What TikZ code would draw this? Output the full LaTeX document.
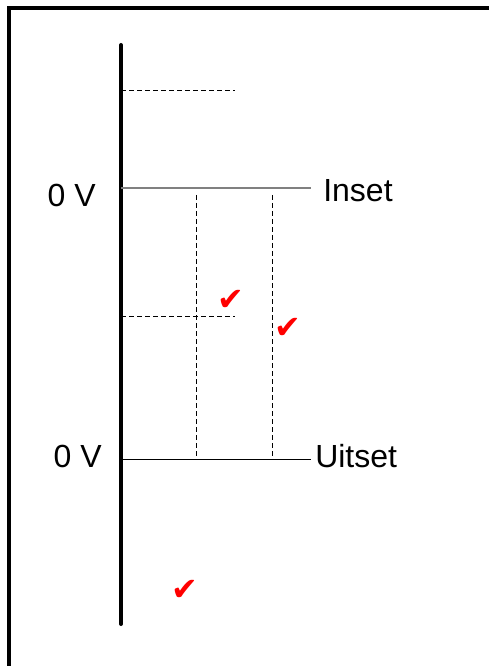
\documentclass[tikz,border=0pt]{standalone}
\usepackage{fontspec}
\setmainfont{Liberation Sans}
\newfontfamily\symfont{DejaVu Sans}
\begin{document}
\begin{tikzpicture}[x=0.75pt,y=-0.75pt,
  lbl/.style={inner sep=0pt,font=\fontsize{24}{28}\selectfont},
  tick/.style={inner sep=0pt,text=red,font=\symfont\fontsize{24}{28}\selectfont},
  dline/.style={line width=0.75pt,dash pattern=on 3.5pt off 2.5pt},
  frame/.style={line width=2.6pt},
  axis/.style={line width=3pt,line cap=round}]
\useasboundingbox (0,0) rectangle (488,666);
% frame
\coordinate (fbl) at (9,668);
\coordinate (ftl) at (9,8);
\coordinate (ftr) at (490,8);
\draw[frame] (fbl) -- (ftl) -- (ftr);
% axis
\coordinate (atop) at (121,45);
\coordinate (abot) at (121,624);
\draw[axis] (atop) -- (abot);
% dashed levels
\coordinate (d1a) at (121,91);  \coordinate (d1b) at (235,91);
\coordinate (d2a) at (121,316); \coordinate (d2b) at (235,316);
\draw[dline] (d1a) -- (d1b);
\draw[dline] (d2a) -- (d2b);
% inset / uitset lines
\coordinate (ia) at (121,188); \coordinate (ib) at (311,188);
\coordinate (ua) at (121,459); \coordinate (ub) at (311,459);
\draw[line width=1.5pt,gray] (ia) -- (ib);
\draw[line width=0.75pt] (ua) -- (ub);
% vertical dashed
\coordinate (v1a) at (196,195); \coordinate (v1b) at (196,459);
\coordinate (v2a) at (272,195); \coordinate (v2b) at (272,459);
\draw[dline] (v1a) -- (v1b);
\draw[dline] (v2a) -- (v2b);
% labels
\node[lbl,anchor=base west] (inset) at (323,202) {Inset};
\node[lbl,anchor=base west] (uitset) at (315,467) {Uitset};
\node[lbl,anchor=base east] (v0a) at (96,207) {0 V};
\node[lbl,anchor=base east] (v0b) at (102,467) {0 V};
% ticks
\node[tick] (t1) at (231,300) {✔};
\node[tick] (t2) at (288,328) {✔};
\node[tick] (t3) at (185,590) {✔};
\end{tikzpicture}
\end{document}
